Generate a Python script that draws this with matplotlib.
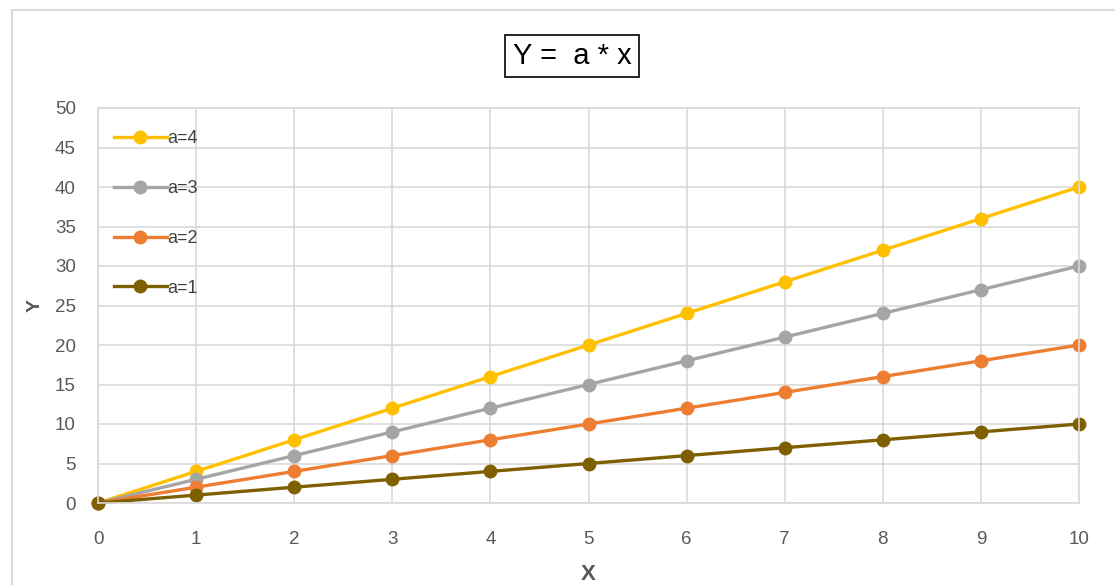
import matplotlib.pyplot as plt
from matplotlib.lines import Line2D

x = [0, 1, 2, 3, 4, 5, 6, 7, 8, 9, 10]
y_a4 = [0, 4, 8, 12, 16, 20, 24, 28, 32, 36, 40]
y_a3 = [0, 3, 6, 9, 12, 15, 18, 21, 24, 27, 30]
y_a2 = [0, 2, 4, 6, 8, 10, 12, 14, 16, 18, 20]
y_a1 = [0, 1, 2, 3, 4, 5, 6, 7, 8, 9, 10]
labels = ['a=4', 'a=3', 'a=2', 'a=1']
colors = ['#FFC000', '#A5A5A5', '#ED7D31', '#7F6000']

plt.rcParams['font.family'] = ['Liberation Sans', 'DejaVu Sans']
txt = '#595959'

fig = plt.figure(figsize=(11.15, 5.85), dpi=100)
ax = fig.add_axes([98 / 1115, 1 - 503 / 585, 981 / 1115, 395 / 585])

# chart border (Excel style)
fig.add_artist(Line2D([12 / 1115, 1], [1 - 10 / 585, 1 - 10 / 585],
                      transform=fig.transFigure, color='#D9D9D9', lw=1.5))
fig.add_artist(Line2D([12 / 1115, 12 / 1115], [0, 1 - 10 / 585],
                      transform=fig.transFigure, color='#D9D9D9', lw=1.5))

for ys, lab, c in zip([y_a4, y_a3, y_a2, y_a1], labels, colors):
    ax.plot(x, ys, color=c, lw=2.4, marker='o', markersize=9, label=lab,
            clip_on=False)

ax.set_xlim(0, 10)
ax.set_ylim(0, 50)
ax.set_xticks(range(0, 11))
ax.set_yticks(range(0, 51, 5))
ax.grid(True, color='#D9D9D9', lw=1.2)
ax.set_axisbelow(True)
for s in ax.spines.values():
    s.set_color('#D9D9D9')
    s.set_linewidth(1.2)
ax.tick_params(length=0, labelsize=13.5, labelcolor=txt)
ax.tick_params(axis='x', pad=20)
ax.tick_params(axis='y', pad=16)

ax.set_xlabel('X', fontsize=16, fontweight='bold', color=txt, labelpad=12)
ax.set_ylabel('Y', fontsize=14, fontweight='bold', color=txt, labelpad=8)

fig.text(572 / 1115, 1 - 56 / 585, 'Y =  a * x', fontsize=21, color='black',
         ha='center', va='center',
         bbox=dict(boxstyle='square,pad=0.25', fc='white', ec='black', lw=1.2))

leg = ax.legend(loc='upper left', frameon=False, fontsize=13,
                bbox_to_anchor=(0.0, 0.985), labelspacing=1.82,
                handlelength=2.9, handletextpad=0.05)
for t in leg.get_texts():
    t.set_color('#404040')

fig.savefig('out.png', dpi=100)
